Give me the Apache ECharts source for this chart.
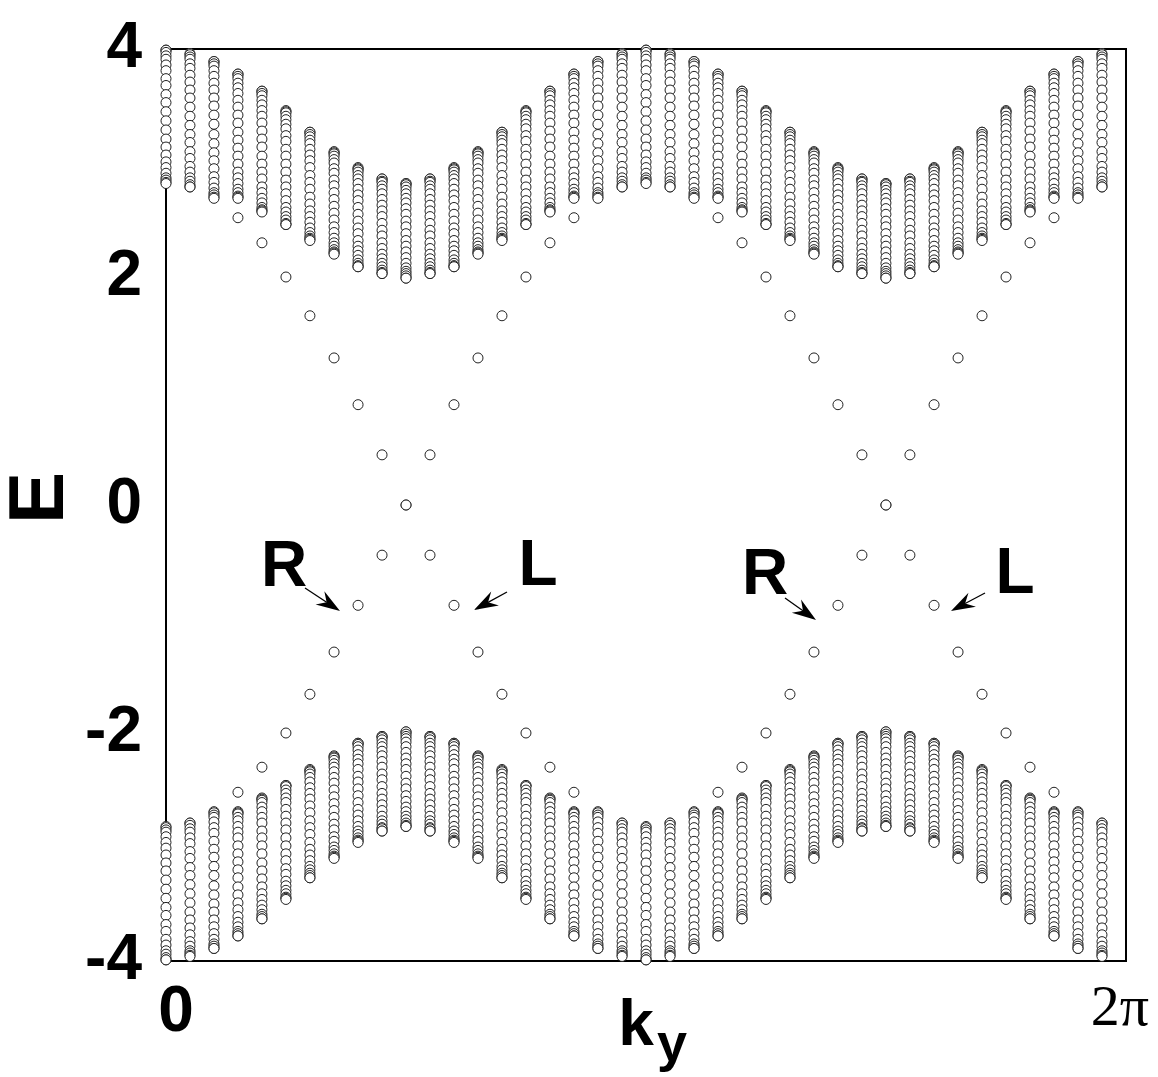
<!DOCTYPE html>
<html>
<head>
<meta charset="UTF-8">
<title>ribbon spectrum E(ky)</title>
<script src="https://cdn.jsdelivr.net/npm/echarts@6/dist/echarts.min.js"></script>
</head>
<body style="margin:0;background:#fff;">
<div id="main" style="width:1158px;height:1077px;"></div>
<script>
// ky of the 40 columns, 0 .. 2pi
var kyValues = [0, 0.157, 0.314, 0.471, 0.628, 0.785, 0.942, 1.100, 1.257, 1.414,
    1.571, 1.728, 1.885, 2.042, 2.199, 2.356, 2.513, 2.670, 2.827, 2.985,
    3.142, 3.299, 3.456, 3.613, 3.770, 3.927, 4.084, 4.241, 4.398, 4.555,
    4.712, 4.869, 5.027, 5.184, 5.341, 5.498, 5.655, 5.812, 5.969, 6.126];

// upper bulk band, one list per column (top to bottom)
var upperBand = [
    [3.99, 3.99, 3.97, 3.94, 3.91, 3.86, 3.81, 3.74, 3.68, 3.60, 3.53, 3.45, 3.37, 3.29, 3.21, 3.14, 3.07, 3.01, 2.96, 2.91, 2.87, 2.85, 2.83, 2.82],
    [3.96, 3.95, 3.93, 3.91, 3.87, 3.83, 3.77, 3.71, 3.64, 3.57, 3.49, 3.41, 3.33, 3.25, 3.18, 3.10, 3.04, 2.97, 2.92, 2.87, 2.84, 2.81, 2.79, 2.79],
    [3.89, 3.89, 3.87, 3.85, 3.81, 3.76, 3.70, 3.64, 3.57, 3.50, 3.42, 3.34, 3.25, 3.17, 3.09, 3.02, 2.95, 2.88, 2.83, 2.78, 2.74, 2.72, 2.70, 2.69],
    [3.78, 3.78, 3.76, 3.74, 3.70, 3.66, 3.61, 3.55, 3.49, 3.42, 3.35, 3.27, 3.20, 3.13, 3.06, 2.99, 2.92, 2.87, 2.82, 2.77, 2.74, 2.71, 2.70, 2.69],
    [3.63, 3.63, 3.61, 3.59, 3.55, 3.51, 3.46, 3.41, 3.35, 3.28, 3.21, 3.14, 3.06, 2.99, 2.92, 2.86, 2.79, 2.74, 2.69, 2.65, 2.61, 2.59, 2.58, 2.57],
    [3.46, 3.45, 3.44, 3.41, 3.38, 3.34, 3.30, 3.24, 3.19, 3.12, 3.06, 2.99, 2.92, 2.85, 2.79, 2.73, 2.67, 2.61, 2.57, 2.53, 2.50, 2.47, 2.46, 2.46],
    [3.27, 3.27, 3.25, 3.23, 3.20, 3.17, 3.12, 3.07, 3.02, 2.96, 2.89, 2.83, 2.77, 2.70, 2.64, 2.58, 2.53, 2.48, 2.43, 2.39, 2.36, 2.34, 2.33, 2.32],
    [3.10, 3.09, 3.08, 3.06, 3.03, 3.00, 2.95, 2.91, 2.85, 2.80, 2.74, 2.68, 2.62, 2.56, 2.50, 2.44, 2.39, 2.34, 2.30, 2.27, 2.24, 2.22, 2.21, 2.20],
    [2.96, 2.95, 2.94, 2.92, 2.89, 2.86, 2.82, 2.77, 2.72, 2.67, 2.61, 2.55, 2.49, 2.43, 2.38, 2.32, 2.27, 2.23, 2.19, 2.15, 2.12, 2.10, 2.09, 2.09],
    [2.86, 2.86, 2.84, 2.83, 2.80, 2.77, 2.73, 2.68, 2.63, 2.58, 2.53, 2.47, 2.41, 2.36, 2.30, 2.25, 2.20, 2.16, 2.12, 2.09, 2.06, 2.04, 2.03, 2.03],
    [2.82, 2.82, 2.81, 2.79, 2.76, 2.73, 2.69, 2.65, 2.60, 2.55, 2.49, 2.44, 2.38, 2.32, 2.27, 2.22, 2.17, 2.12, 2.08, 2.05, 2.03, 2.01, 1.99, 1.99],
    [2.86, 2.86, 2.84, 2.83, 2.80, 2.77, 2.73, 2.68, 2.63, 2.58, 2.53, 2.47, 2.41, 2.36, 2.30, 2.25, 2.20, 2.16, 2.12, 2.09, 2.06, 2.04, 2.03, 2.03],
    [2.96, 2.95, 2.94, 2.92, 2.89, 2.86, 2.82, 2.77, 2.72, 2.67, 2.61, 2.55, 2.49, 2.43, 2.38, 2.32, 2.27, 2.23, 2.19, 2.15, 2.12, 2.10, 2.09, 2.09],
    [3.10, 3.09, 3.08, 3.06, 3.03, 3.00, 2.95, 2.91, 2.85, 2.80, 2.74, 2.68, 2.62, 2.56, 2.50, 2.44, 2.39, 2.34, 2.30, 2.27, 2.24, 2.22, 2.21, 2.20],
    [3.27, 3.27, 3.25, 3.23, 3.20, 3.17, 3.12, 3.07, 3.02, 2.96, 2.89, 2.83, 2.77, 2.70, 2.64, 2.58, 2.53, 2.48, 2.43, 2.39, 2.36, 2.34, 2.33, 2.32],
    [3.46, 3.45, 3.44, 3.41, 3.38, 3.34, 3.30, 3.24, 3.19, 3.12, 3.06, 2.99, 2.92, 2.85, 2.79, 2.73, 2.67, 2.61, 2.57, 2.53, 2.50, 2.47, 2.46, 2.46],
    [3.63, 3.63, 3.61, 3.59, 3.55, 3.51, 3.46, 3.41, 3.35, 3.28, 3.21, 3.14, 3.06, 2.99, 2.92, 2.86, 2.79, 2.74, 2.69, 2.65, 2.61, 2.59, 2.58, 2.57],
    [3.78, 3.78, 3.76, 3.74, 3.70, 3.66, 3.61, 3.55, 3.49, 3.42, 3.35, 3.27, 3.20, 3.13, 3.06, 2.99, 2.92, 2.87, 2.82, 2.77, 2.74, 2.71, 2.70, 2.69],
    [3.89, 3.89, 3.87, 3.85, 3.81, 3.76, 3.70, 3.64, 3.57, 3.50, 3.42, 3.34, 3.25, 3.17, 3.09, 3.02, 2.95, 2.88, 2.83, 2.78, 2.74, 2.72, 2.70, 2.69],
    [3.96, 3.95, 3.93, 3.91, 3.87, 3.83, 3.77, 3.71, 3.64, 3.57, 3.49, 3.41, 3.33, 3.25, 3.18, 3.10, 3.04, 2.97, 2.92, 2.87, 2.84, 2.81, 2.79, 2.79],
    [3.99, 3.99, 3.97, 3.94, 3.91, 3.86, 3.81, 3.74, 3.68, 3.60, 3.53, 3.45, 3.37, 3.29, 3.21, 3.14, 3.07, 3.01, 2.96, 2.91, 2.87, 2.85, 2.83, 2.82],
    [3.96, 3.95, 3.93, 3.91, 3.87, 3.83, 3.77, 3.71, 3.64, 3.57, 3.49, 3.41, 3.33, 3.25, 3.18, 3.10, 3.04, 2.97, 2.92, 2.87, 2.84, 2.81, 2.79, 2.79],
    [3.89, 3.89, 3.87, 3.85, 3.81, 3.76, 3.70, 3.64, 3.57, 3.50, 3.42, 3.34, 3.25, 3.17, 3.09, 3.02, 2.95, 2.88, 2.83, 2.78, 2.74, 2.72, 2.70, 2.69],
    [3.78, 3.78, 3.76, 3.74, 3.70, 3.66, 3.61, 3.55, 3.49, 3.42, 3.35, 3.27, 3.20, 3.13, 3.06, 2.99, 2.92, 2.87, 2.82, 2.77, 2.74, 2.71, 2.70, 2.69],
    [3.63, 3.63, 3.61, 3.59, 3.55, 3.51, 3.46, 3.41, 3.35, 3.28, 3.21, 3.14, 3.06, 2.99, 2.92, 2.86, 2.79, 2.74, 2.69, 2.65, 2.61, 2.59, 2.58, 2.57],
    [3.46, 3.45, 3.44, 3.41, 3.38, 3.34, 3.30, 3.24, 3.19, 3.12, 3.06, 2.99, 2.92, 2.85, 2.79, 2.73, 2.67, 2.61, 2.57, 2.53, 2.50, 2.47, 2.46, 2.46],
    [3.27, 3.27, 3.25, 3.23, 3.20, 3.17, 3.12, 3.07, 3.02, 2.96, 2.89, 2.83, 2.77, 2.70, 2.64, 2.58, 2.53, 2.48, 2.43, 2.39, 2.36, 2.34, 2.33, 2.32],
    [3.10, 3.09, 3.08, 3.06, 3.03, 3.00, 2.95, 2.91, 2.85, 2.80, 2.74, 2.68, 2.62, 2.56, 2.50, 2.44, 2.39, 2.34, 2.30, 2.27, 2.24, 2.22, 2.21, 2.20],
    [2.96, 2.95, 2.94, 2.92, 2.89, 2.86, 2.82, 2.77, 2.72, 2.67, 2.61, 2.55, 2.49, 2.43, 2.38, 2.32, 2.27, 2.23, 2.19, 2.15, 2.12, 2.10, 2.09, 2.09],
    [2.86, 2.86, 2.84, 2.83, 2.80, 2.77, 2.73, 2.68, 2.63, 2.58, 2.53, 2.47, 2.41, 2.36, 2.30, 2.25, 2.20, 2.16, 2.12, 2.09, 2.06, 2.04, 2.03, 2.03],
    [2.82, 2.82, 2.81, 2.79, 2.76, 2.73, 2.69, 2.65, 2.60, 2.55, 2.49, 2.44, 2.38, 2.32, 2.27, 2.22, 2.17, 2.12, 2.08, 2.05, 2.03, 2.01, 1.99, 1.99],
    [2.86, 2.86, 2.84, 2.83, 2.80, 2.77, 2.73, 2.68, 2.63, 2.58, 2.53, 2.47, 2.41, 2.36, 2.30, 2.25, 2.20, 2.16, 2.12, 2.09, 2.06, 2.04, 2.03, 2.03],
    [2.96, 2.95, 2.94, 2.92, 2.89, 2.86, 2.82, 2.77, 2.72, 2.67, 2.61, 2.55, 2.49, 2.43, 2.38, 2.32, 2.27, 2.23, 2.19, 2.15, 2.12, 2.10, 2.09, 2.09],
    [3.10, 3.09, 3.08, 3.06, 3.03, 3.00, 2.95, 2.91, 2.85, 2.80, 2.74, 2.68, 2.62, 2.56, 2.50, 2.44, 2.39, 2.34, 2.30, 2.27, 2.24, 2.22, 2.21, 2.20],
    [3.27, 3.27, 3.25, 3.23, 3.20, 3.17, 3.12, 3.07, 3.02, 2.96, 2.89, 2.83, 2.77, 2.70, 2.64, 2.58, 2.53, 2.48, 2.43, 2.39, 2.36, 2.34, 2.33, 2.32],
    [3.46, 3.45, 3.44, 3.41, 3.38, 3.34, 3.30, 3.24, 3.19, 3.12, 3.06, 2.99, 2.92, 2.85, 2.79, 2.73, 2.67, 2.61, 2.57, 2.53, 2.50, 2.47, 2.46, 2.46],
    [3.63, 3.63, 3.61, 3.59, 3.55, 3.51, 3.46, 3.41, 3.35, 3.28, 3.21, 3.14, 3.06, 2.99, 2.92, 2.86, 2.79, 2.74, 2.69, 2.65, 2.61, 2.59, 2.58, 2.57],
    [3.78, 3.78, 3.76, 3.74, 3.70, 3.66, 3.61, 3.55, 3.49, 3.42, 3.35, 3.27, 3.20, 3.13, 3.06, 2.99, 2.92, 2.87, 2.82, 2.77, 2.74, 2.71, 2.70, 2.69],
    [3.89, 3.89, 3.87, 3.85, 3.81, 3.76, 3.70, 3.64, 3.57, 3.50, 3.42, 3.34, 3.25, 3.17, 3.09, 3.02, 2.95, 2.88, 2.83, 2.78, 2.74, 2.72, 2.70, 2.69],
    [3.96, 3.95, 3.93, 3.91, 3.87, 3.83, 3.77, 3.71, 3.64, 3.57, 3.49, 3.41, 3.33, 3.25, 3.18, 3.10, 3.04, 2.97, 2.92, 2.87, 2.84, 2.81, 2.79, 2.79]
];

// lower bulk band, one list per column (top to bottom)
var lowerBand = [
    [-2.82, -2.83, -2.85, -2.87, -2.91, -2.96, -3.01, -3.07, -3.14, -3.21, -3.29, -3.37, -3.45, -3.53, -3.60, -3.68, -3.74, -3.81, -3.86, -3.91, -3.94, -3.97, -3.99, -3.99],
    [-2.79, -2.79, -2.81, -2.84, -2.87, -2.92, -2.97, -3.04, -3.10, -3.18, -3.25, -3.33, -3.41, -3.49, -3.57, -3.64, -3.71, -3.77, -3.83, -3.87, -3.91, -3.93, -3.95, -3.96],
    [-2.69, -2.70, -2.72, -2.74, -2.78, -2.83, -2.88, -2.95, -3.02, -3.09, -3.17, -3.25, -3.34, -3.42, -3.50, -3.57, -3.64, -3.70, -3.76, -3.81, -3.85, -3.87, -3.89, -3.89],
    [-2.69, -2.70, -2.71, -2.74, -2.77, -2.82, -2.87, -2.92, -2.99, -3.06, -3.13, -3.20, -3.27, -3.35, -3.42, -3.49, -3.55, -3.61, -3.66, -3.70, -3.74, -3.76, -3.78, -3.78],
    [-2.57, -2.58, -2.59, -2.61, -2.65, -2.69, -2.74, -2.79, -2.86, -2.92, -2.99, -3.06, -3.14, -3.21, -3.28, -3.35, -3.41, -3.46, -3.51, -3.55, -3.59, -3.61, -3.63, -3.63],
    [-2.46, -2.46, -2.47, -2.50, -2.53, -2.57, -2.61, -2.67, -2.73, -2.79, -2.85, -2.92, -2.99, -3.06, -3.12, -3.19, -3.24, -3.30, -3.34, -3.38, -3.41, -3.44, -3.45, -3.46],
    [-2.32, -2.33, -2.34, -2.36, -2.39, -2.43, -2.48, -2.53, -2.58, -2.64, -2.70, -2.77, -2.83, -2.89, -2.96, -3.02, -3.07, -3.12, -3.17, -3.20, -3.23, -3.25, -3.27, -3.27],
    [-2.20, -2.21, -2.22, -2.24, -2.27, -2.30, -2.34, -2.39, -2.44, -2.50, -2.56, -2.62, -2.68, -2.74, -2.80, -2.85, -2.91, -2.95, -3.00, -3.03, -3.06, -3.08, -3.09, -3.10],
    [-2.09, -2.09, -2.10, -2.12, -2.15, -2.19, -2.23, -2.27, -2.32, -2.38, -2.43, -2.49, -2.55, -2.61, -2.67, -2.72, -2.77, -2.82, -2.86, -2.89, -2.92, -2.94, -2.95, -2.96],
    [-2.03, -2.03, -2.04, -2.06, -2.09, -2.12, -2.16, -2.20, -2.25, -2.30, -2.36, -2.41, -2.47, -2.53, -2.58, -2.63, -2.68, -2.73, -2.77, -2.80, -2.83, -2.84, -2.86, -2.86],
    [-1.99, -1.99, -2.01, -2.03, -2.05, -2.08, -2.12, -2.17, -2.22, -2.27, -2.32, -2.38, -2.44, -2.49, -2.55, -2.60, -2.65, -2.69, -2.73, -2.76, -2.79, -2.81, -2.82, -2.82],
    [-2.03, -2.03, -2.04, -2.06, -2.09, -2.12, -2.16, -2.20, -2.25, -2.30, -2.36, -2.41, -2.47, -2.53, -2.58, -2.63, -2.68, -2.73, -2.77, -2.80, -2.83, -2.84, -2.86, -2.86],
    [-2.09, -2.09, -2.10, -2.12, -2.15, -2.19, -2.23, -2.27, -2.32, -2.38, -2.43, -2.49, -2.55, -2.61, -2.67, -2.72, -2.77, -2.82, -2.86, -2.89, -2.92, -2.94, -2.95, -2.96],
    [-2.20, -2.21, -2.22, -2.24, -2.27, -2.30, -2.34, -2.39, -2.44, -2.50, -2.56, -2.62, -2.68, -2.74, -2.80, -2.85, -2.91, -2.95, -3.00, -3.03, -3.06, -3.08, -3.09, -3.10],
    [-2.32, -2.33, -2.34, -2.36, -2.39, -2.43, -2.48, -2.53, -2.58, -2.64, -2.70, -2.77, -2.83, -2.89, -2.96, -3.02, -3.07, -3.12, -3.17, -3.20, -3.23, -3.25, -3.27, -3.27],
    [-2.46, -2.46, -2.47, -2.50, -2.53, -2.57, -2.61, -2.67, -2.73, -2.79, -2.85, -2.92, -2.99, -3.06, -3.12, -3.19, -3.24, -3.30, -3.34, -3.38, -3.41, -3.44, -3.45, -3.46],
    [-2.57, -2.58, -2.59, -2.61, -2.65, -2.69, -2.74, -2.79, -2.86, -2.92, -2.99, -3.06, -3.14, -3.21, -3.28, -3.35, -3.41, -3.46, -3.51, -3.55, -3.59, -3.61, -3.63, -3.63],
    [-2.69, -2.70, -2.71, -2.74, -2.77, -2.82, -2.87, -2.92, -2.99, -3.06, -3.13, -3.20, -3.27, -3.35, -3.42, -3.49, -3.55, -3.61, -3.66, -3.70, -3.74, -3.76, -3.78, -3.78],
    [-2.69, -2.70, -2.72, -2.74, -2.78, -2.83, -2.88, -2.95, -3.02, -3.09, -3.17, -3.25, -3.34, -3.42, -3.50, -3.57, -3.64, -3.70, -3.76, -3.81, -3.85, -3.87, -3.89, -3.89],
    [-2.79, -2.79, -2.81, -2.84, -2.87, -2.92, -2.97, -3.04, -3.10, -3.18, -3.25, -3.33, -3.41, -3.49, -3.57, -3.64, -3.71, -3.77, -3.83, -3.87, -3.91, -3.93, -3.95, -3.96],
    [-2.82, -2.83, -2.85, -2.87, -2.91, -2.96, -3.01, -3.07, -3.14, -3.21, -3.29, -3.37, -3.45, -3.53, -3.60, -3.68, -3.74, -3.81, -3.86, -3.91, -3.94, -3.97, -3.99, -3.99],
    [-2.79, -2.79, -2.81, -2.84, -2.87, -2.92, -2.97, -3.04, -3.10, -3.18, -3.25, -3.33, -3.41, -3.49, -3.57, -3.64, -3.71, -3.77, -3.83, -3.87, -3.91, -3.93, -3.95, -3.96],
    [-2.69, -2.70, -2.72, -2.74, -2.78, -2.83, -2.88, -2.95, -3.02, -3.09, -3.17, -3.25, -3.34, -3.42, -3.50, -3.57, -3.64, -3.70, -3.76, -3.81, -3.85, -3.87, -3.89, -3.89],
    [-2.69, -2.70, -2.71, -2.74, -2.77, -2.82, -2.87, -2.92, -2.99, -3.06, -3.13, -3.20, -3.27, -3.35, -3.42, -3.49, -3.55, -3.61, -3.66, -3.70, -3.74, -3.76, -3.78, -3.78],
    [-2.57, -2.58, -2.59, -2.61, -2.65, -2.69, -2.74, -2.79, -2.86, -2.92, -2.99, -3.06, -3.14, -3.21, -3.28, -3.35, -3.41, -3.46, -3.51, -3.55, -3.59, -3.61, -3.63, -3.63],
    [-2.46, -2.46, -2.47, -2.50, -2.53, -2.57, -2.61, -2.67, -2.73, -2.79, -2.85, -2.92, -2.99, -3.06, -3.12, -3.19, -3.24, -3.30, -3.34, -3.38, -3.41, -3.44, -3.45, -3.46],
    [-2.32, -2.33, -2.34, -2.36, -2.39, -2.43, -2.48, -2.53, -2.58, -2.64, -2.70, -2.77, -2.83, -2.89, -2.96, -3.02, -3.07, -3.12, -3.17, -3.20, -3.23, -3.25, -3.27, -3.27],
    [-2.20, -2.21, -2.22, -2.24, -2.27, -2.30, -2.34, -2.39, -2.44, -2.50, -2.56, -2.62, -2.68, -2.74, -2.80, -2.85, -2.91, -2.95, -3.00, -3.03, -3.06, -3.08, -3.09, -3.10],
    [-2.09, -2.09, -2.10, -2.12, -2.15, -2.19, -2.23, -2.27, -2.32, -2.38, -2.43, -2.49, -2.55, -2.61, -2.67, -2.72, -2.77, -2.82, -2.86, -2.89, -2.92, -2.94, -2.95, -2.96],
    [-2.03, -2.03, -2.04, -2.06, -2.09, -2.12, -2.16, -2.20, -2.25, -2.30, -2.36, -2.41, -2.47, -2.53, -2.58, -2.63, -2.68, -2.73, -2.77, -2.80, -2.83, -2.84, -2.86, -2.86],
    [-1.99, -1.99, -2.01, -2.03, -2.05, -2.08, -2.12, -2.17, -2.22, -2.27, -2.32, -2.38, -2.44, -2.49, -2.55, -2.60, -2.65, -2.69, -2.73, -2.76, -2.79, -2.81, -2.82, -2.82],
    [-2.03, -2.03, -2.04, -2.06, -2.09, -2.12, -2.16, -2.20, -2.25, -2.30, -2.36, -2.41, -2.47, -2.53, -2.58, -2.63, -2.68, -2.73, -2.77, -2.80, -2.83, -2.84, -2.86, -2.86],
    [-2.09, -2.09, -2.10, -2.12, -2.15, -2.19, -2.23, -2.27, -2.32, -2.38, -2.43, -2.49, -2.55, -2.61, -2.67, -2.72, -2.77, -2.82, -2.86, -2.89, -2.92, -2.94, -2.95, -2.96],
    [-2.20, -2.21, -2.22, -2.24, -2.27, -2.30, -2.34, -2.39, -2.44, -2.50, -2.56, -2.62, -2.68, -2.74, -2.80, -2.85, -2.91, -2.95, -3.00, -3.03, -3.06, -3.08, -3.09, -3.10],
    [-2.32, -2.33, -2.34, -2.36, -2.39, -2.43, -2.48, -2.53, -2.58, -2.64, -2.70, -2.77, -2.83, -2.89, -2.96, -3.02, -3.07, -3.12, -3.17, -3.20, -3.23, -3.25, -3.27, -3.27],
    [-2.46, -2.46, -2.47, -2.50, -2.53, -2.57, -2.61, -2.67, -2.73, -2.79, -2.85, -2.92, -2.99, -3.06, -3.12, -3.19, -3.24, -3.30, -3.34, -3.38, -3.41, -3.44, -3.45, -3.46],
    [-2.57, -2.58, -2.59, -2.61, -2.65, -2.69, -2.74, -2.79, -2.86, -2.92, -2.99, -3.06, -3.14, -3.21, -3.28, -3.35, -3.41, -3.46, -3.51, -3.55, -3.59, -3.61, -3.63, -3.63],
    [-2.69, -2.70, -2.71, -2.74, -2.77, -2.82, -2.87, -2.92, -2.99, -3.06, -3.13, -3.20, -3.27, -3.35, -3.42, -3.49, -3.55, -3.61, -3.66, -3.70, -3.74, -3.76, -3.78, -3.78],
    [-2.69, -2.70, -2.72, -2.74, -2.78, -2.83, -2.88, -2.95, -3.02, -3.09, -3.17, -3.25, -3.34, -3.42, -3.50, -3.57, -3.64, -3.70, -3.76, -3.81, -3.85, -3.87, -3.89, -3.89],
    [-2.79, -2.79, -2.81, -2.84, -2.87, -2.92, -2.97, -3.04, -3.10, -3.18, -3.25, -3.33, -3.41, -3.49, -3.57, -3.64, -3.71, -3.77, -3.83, -3.87, -3.91, -3.93, -3.95, -3.96]
];

// edge states in the gap (null = none at that ky)
var edgeUpper = [null, null, null, 2.52, 2.30, 2.00, 1.66, 1.29, 0.88, 0.44,
    0.00, 0.44, 0.88, 1.29, 1.66, 2.00, 2.30, 2.52, null, null,
    null, null, null, 2.52, 2.30, 2.00, 1.66, 1.29, 0.88, 0.44,
    0.00, 0.44, 0.88, 1.29, 1.66, 2.00, 2.30, 2.52, null, null];
var edgeLower = [null, null, null, -2.52, -2.30, -2.00, -1.66, -1.29, -0.88, -0.44,
    0.00, -0.44, -0.88, -1.29, -1.66, -2.00, -2.30, -2.52, null, null,
    null, null, null, -2.52, -2.30, -2.00, -1.66, -1.29, -0.88, -0.44,
    0.00, -0.44, -0.88, -1.29, -1.66, -2.00, -2.30, -2.52, null, null];

var FONT = '"Liberation Sans", Arial, Helvetica, sans-serif';

var points = [];
for (var c = 0; c < kyValues.length; c++) {
    upperBand[c].forEach(function (e) { points.push([kyValues[c], e]); });
}
for (var c = 0; c < kyValues.length; c++) {
    lowerBand[c].forEach(function (e) { points.push([kyValues[c], e]); });
}
var edgePoints = [];
for (var c = 0; c < kyValues.length; c++) {
    if (edgeUpper[c] !== null) edgePoints.push([kyValues[c], edgeUpper[c]]);
    if (edgeLower[c] !== null) edgePoints.push([kyValues[c], edgeLower[c]]);
}

// arrow = thin line + notched head
function arrow(x1, y1, x2, y2) {
    var dx = x2 - x1, dy = y2 - y1;
    var len = Math.sqrt(dx * dx + dy * dy);
    var ux = dx / len, uy = dy / len, nx = -uy, ny = ux;
    var hl = 24, hw = 8, notch = 16;
    return [
        { type: 'line', shape: { x1: x1, y1: y1, x2: x2 - ux * notch, y2: y2 - uy * notch },
          style: { stroke: '#000', lineWidth: 1.3 }, z: 10 },
        { type: 'polygon', shape: { points: [
            [x2, y2],
            [x2 - ux * hl + nx * hw, y2 - uy * hl + ny * hw],
            [x2 - ux * notch, y2 - uy * notch],
            [x2 - ux * hl - nx * hw, y2 - uy * hl - ny * hw]
          ] }, style: { fill: '#000' }, z: 10 }
    ];
}
function label(txt, x, y) {
    return { type: 'text', x: x, y: y, z: 10,
        style: { text: txt, fontFamily: FONT, fontWeight: 'bold', fontSize: 64,
                 fill: '#000', align: 'center', verticalAlign: 'middle' } };
}

var graphics = [
    label('R', 284, 568), label('L', 538, 567),
    label('R', 765, 576), label('L', 1015, 575),
    { type: 'text', x: 41, y: 498, rotation: Math.PI / 2, z: 10,
      style: { text: 'E', fontFamily: FONT, fontWeight: 'bold', fontSize: 78,
               fill: '#000', align: 'center', verticalAlign: 'middle' } },
    { type: 'text', x: 636, y: 1027, z: 10,
      style: { text: 'k', fontFamily: FONT, fontWeight: 'bold', fontSize: 64,
               fill: '#000', align: 'center', verticalAlign: 'middle' } },
    { type: 'text', x: 672, y: 1046, z: 10,
      style: { text: 'y', fontFamily: FONT, fontWeight: 'bold', fontSize: 54,
               fill: '#000', align: 'center', verticalAlign: 'middle' } }
].concat(arrow(305, 588, 340, 611), arrow(507, 592, 474, 610),
         arrow(785, 598, 816, 620), arrow(985, 593, 951, 611));

var chart = echarts.init(document.getElementById('main'));
chart.setOption({
    animation: false,
    backgroundColor: '#fff',
    grid: { left: 166, right: 32, top: 49, bottom: 116, show: true,
            borderColor: '#000', borderWidth: 2, backgroundColor: 'transparent' },
    xAxis: {
        type: 'value', min: 0, max: 2 * Math.PI, interval: 2 * Math.PI,
        axisLine: { show: false }, axisTick: { show: false }, splitLine: { show: false },
        axisLabel: {
            margin: 20, showMinLabel: true, showMaxLabel: true,
            formatter: function (v) { return v === 0 ? '{a|0}' : '{b|2π}'; },
            rich: {
                a: { fontFamily: FONT, fontWeight: 'bold', fontSize: 64, color: '#000', padding: [0, 0, 0, 20] },
                b: { fontFamily: '"Liberation Serif", "Times New Roman", serif', fontSize: 58, color: '#000', padding: [0, 12, 0, 0] }
            }
        }
    },
    yAxis: {
        type: 'value', min: -4, max: 4, interval: 2,
        axisLine: { show: false }, axisTick: { show: false }, splitLine: { show: false },
        axisLabel: { margin: 24, fontFamily: FONT, fontWeight: 'bold', fontSize: 64,
                     color: '#000', padding: [0, 0, 18, 0] }
    },
    series: [
        { type: 'scatter', data: points, symbol: 'circle', symbolSize: 10, clip: false,
          progressive: 0, silent: true,
          itemStyle: { color: '#fff', borderColor: '#222', borderWidth: 1, opacity: 1 } },
        { type: 'scatter', data: edgePoints, symbol: 'circle', symbolSize: 10, clip: false,
          silent: true,
          itemStyle: { color: '#fff', borderColor: '#222', borderWidth: 1, opacity: 1 } }
    ],
    graphic: graphics
});
</script>
</body>
</html>
